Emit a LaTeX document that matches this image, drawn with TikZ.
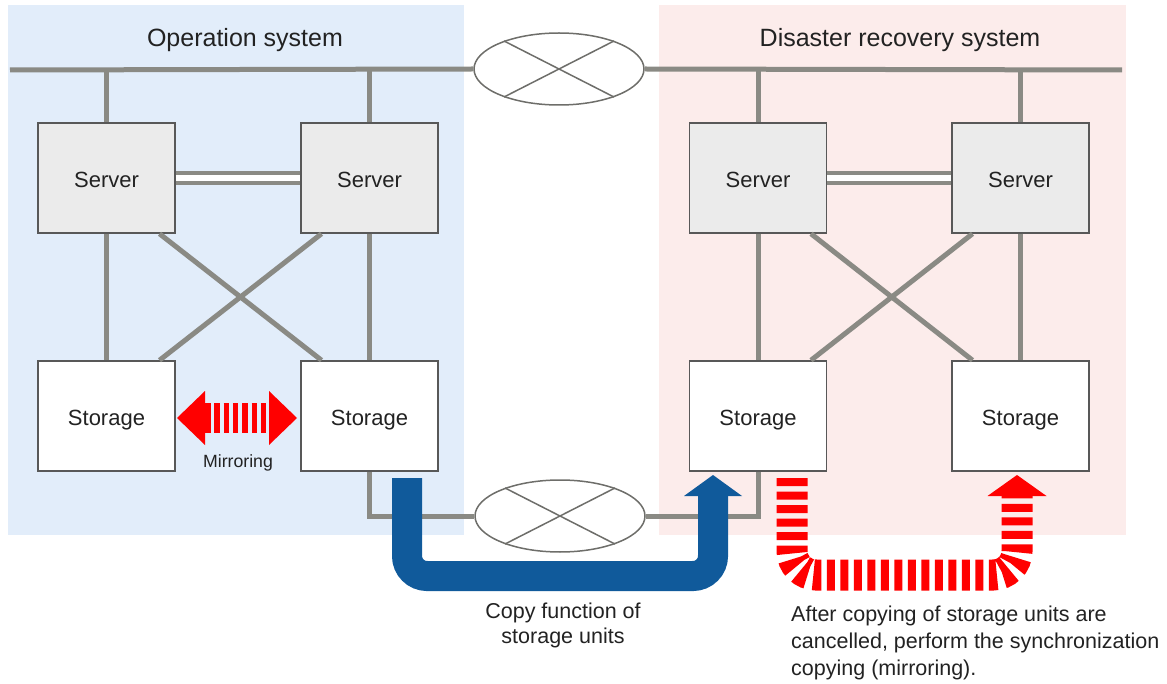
\documentclass[tikz,border=0pt]{standalone}
\usepackage{fontspec}
\setmainfont{Liberation Sans}
\usetikzlibrary{arrows.meta,calc,positioning,shapes.geometric}
\definecolor{opbg}{RGB}{226,237,250}
\definecolor{drbg}{RGB}{252,236,235}
\definecolor{netgray}{RGB}{138,138,132}
\definecolor{boxgray}{RGB}{88,88,88}
\definecolor{servergray}{RGB}{235,235,235}
\definecolor{wangray}{RGB}{110,110,106}
\definecolor{copyblue}{RGB}{16,90,155}
\definecolor{txtgray}{RGB}{34,34,34}

\begin{document}
\begin{tikzpicture}[
  x=1pt,
  y=-1pt,
  net/.style={line width=5pt,netgray},
  server/.style={
    draw=boxgray,
    line width=1.5pt,
    fill=servergray,
    minimum width=137pt,
    minimum height=110pt,
    inner sep=0pt,
    text height=19pt,
    text depth=0pt,
    text=txtgray,
    font=\fontsize{22}{26}\selectfont
  },
  storage/.style={server,fill=white},
  wan/.style={ellipse,draw=wangray,line width=1.5pt,fill=white,
    minimum width=170pt,minimum height=72pt,inner sep=0pt},
  cross/.style={line width=1.5pt,wangray},
  title/.style={anchor=base,text=txtgray,font=\fontsize{25}{30}\selectfont},
  note/.style={text=txtgray,font=\fontsize{21.5}{25}\selectfont,inner sep=0pt},
  copyarrow/.style={copyblue,line width=30pt,rounded corners=20pt,
    -{Triangle[length=21pt,width=58pt,line width=0pt]}},
  syncarrow/.style={red,line width=31pt,rounded corners=24pt,
    dash pattern=on 8pt off 5.5pt,
    -{Triangle[length=21pt,width=59pt,line width=0pt]}},
  mirrorarrow/.style={red,line width=30pt,dash pattern=on 5.5pt off 3.8pt,
    {Triangle[length=28pt,width=54pt,line width=0pt]}-{Triangle[length=28pt,width=54pt,line width=0pt]}}
]
\useasboundingbox (0,0) rectangle (1167,684);

% Backgrounds of the two sites
\fill[opbg] (8,5) rectangle (464,535);
\fill[drbg] (659,5) rectangle (1126,535);

\node[title] at (245,47) {Operation system};
\node[title] at (900,47) {Disaster recovery system};

% Networks
\coordinate (lanL) at (10,70);
\coordinate (lanR) at (1122,70);
\node[wan] (topnet) at (559,69) {};
\node[wan] (botnet) at (560,516) {};
\draw[cross] (topnet.153) -- (topnet.333);
\draw[cross] (topnet.27) -- (topnet.207);
\draw[cross] (botnet.153) -- (botnet.333);
\draw[cross] (botnet.27) -- (botnet.207);

% Servers and storage units
\node[server] (sv1) at (106.5,178) {Server};
\node[server] (sv2) at (369.5,178) {Server};
\node[server] (sv3) at (758,178) {Server};
\node[server] (sv4) at (1020.5,178) {Server};
\node[storage] (st1) at (106.5,416) {Storage};
\node[storage] (st2) at (369.5,416) {Storage};
\node[storage] (st3) at (758,416) {Storage};
\node[storage] (st4) at (1020.5,416) {Storage};

% LAN
\draw[net] (lanL) -- (topnet.west);
\draw[net] (topnet.east) -- (lanR);
\foreach \s in {sv1,sv2,sv3,sv4}
  \draw[net] (\s.north) -- (\s.north |- lanL);

% Cluster interconnect
\draw[netgray,line width=4pt,double=white,double distance=6pt] (sv1.east) -- (sv2.west);
\draw[netgray,line width=4pt,double=white,double distance=6pt] (sv3.east) -- (sv4.west);

% SAN
\draw[net] (sv1.south) -- (st1.north);
\draw[net] (sv2.south) -- (st2.north);
\draw[net] (sv3.south) -- (st3.north);
\draw[net] (sv4.south) -- (st4.north);
\draw[net] ([xshift=53pt]sv1.south) -- ([xshift=-48pt]st2.north);
\draw[net] ([xshift=-48pt]sv2.south) -- ([xshift=53pt]st1.north);
\draw[net] ([xshift=53pt]sv3.south) -- ([xshift=-48pt]st4.north);
\draw[net] ([xshift=-48pt]sv4.south) -- ([xshift=53pt]st3.north);

% WAN between storage units
\draw[net] (st2.south) |- (botnet.west);
\draw[net] (botnet.east) -| (st3.south);

% Mirroring
\coordinate (mirL) at (177,418);
\coordinate (mirR) at (297,418);
\draw[mirrorarrow] (mirL) -- (mirR);
\node[note,font=\fontsize{17.7}{20}\selectfont] (mirlabel) at (238,463) {Mirroring};

% Copy function of storage units
\coordinate (cpStart) at (407,478);
\coordinate (cpBot) at (713,576);
\coordinate (cpEnd) at (713,475);
\draw[copyarrow] (cpStart) |- (cpBot) -- (cpEnd);
\node[note,align=center] (cplabel) at (563,625) {Copy function of\\storage units};

% Synchronization copying
\coordinate (syStart) at (792,478);
\coordinate (syBot) at (1017,575);
\coordinate (syEnd) at (1017,475);
\draw[syncarrow] (syStart) |- (syBot) -- (syEnd);
\node[note,align=left,anchor=north west,font=\fontsize{21.5}{27}\selectfont] (sylabel) at (791,606)
  {After copying of storage units are\\cancelled, perform the synchronization\\copying (mirroring).};
\end{tikzpicture}
\end{document}
